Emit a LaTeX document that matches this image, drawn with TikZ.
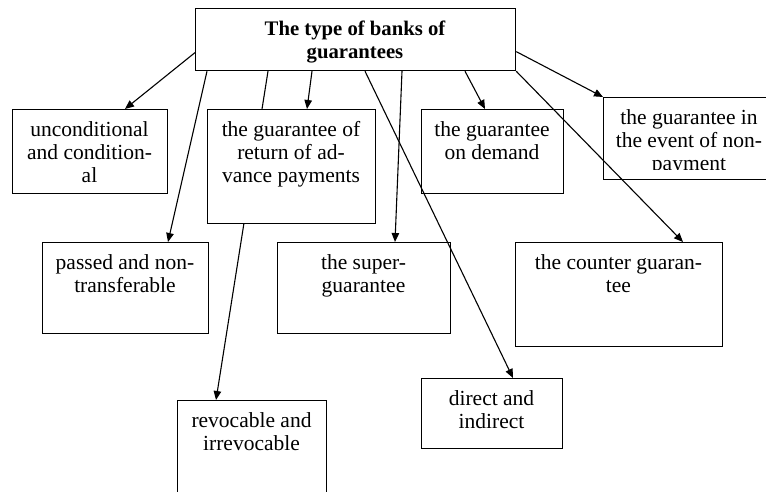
\documentclass[tikz,border=0pt]{standalone}
\usepackage{fontspec}
\setmainfont{Liberation Serif}
\usetikzlibrary{arrows.meta}
\begin{document}
\begin{tikzpicture}[x=1pt,y=-1pt,
  box/.style={draw, line width=1.2pt, fill=white, inner sep=0pt, anchor=north west},
  lbl/.style={inner sep=0pt, anchor=north, align=center, font=\fontsize{21.5}{23}\selectfont},
  ttl/.style={inner sep=0pt, anchor=north, align=center, font=\fontsize{20.7}{23}\selectfont\bfseries},
  conn/.style={line width=1.1pt, -{Triangle[length=9pt,width=7.5pt]}}]
\clip (0,0) rectangle (766,492);
\fill[white] (0,0) rectangle (766,492);
% boxes drawn first so one connector passes behind a box
\node[box, minimum width=320pt, minimum height=62pt] (top) at (195,8) {};
\node[box, minimum width=149pt, minimum height=100pt] (b8) at (177,400) {};
\draw[conn] ([xshift=73pt]top.south west) -- ([xshift=39pt]b8.north west);
\node[box, minimum width=155pt, minimum height=84pt] (b1) at (12,109) {};
\node[box, minimum width=168pt, minimum height=114pt] (b2) at (207,109) {};
\node[box, minimum width=142pt, minimum height=84pt] (b3) at (421,109) {};
\node[box, minimum width=172pt, minimum height=82pt] (b4) at (603,97) {};
\node[box, minimum width=166pt, minimum height=91pt] (b5) at (42,242) {};
\node[box, minimum width=173pt, minimum height=91pt] (b6) at (277,242) {};
\node[box, minimum width=207pt, minimum height=104pt] (b7) at (515,242) {};
\node[box, minimum width=141pt, minimum height=70pt] (b9) at (421,378) {};
% texts
\node[ttl] (t0) at (355,18.9) {\strut The type of banks of\\guarantees};
\node[lbl] (t1) at (89.5,119.9) {\strut unconditional\\and condition-\\al};
\node[lbl] (t2) at (291,119.9) {\strut the guarantee of\\return of ad-\\vance payments};
\node[lbl] (t3) at (492,119.9) {\strut the guarantee\\on demand};
\begin{scope}
\clip (603,97) rectangle (775,170);
\node[lbl] (t4) at (689,107.9) {\strut the guarantee in\\the event of non-\\payment};
\end{scope}
\node[lbl] (t5) at (125,252.9) {\strut passed and non-\\transferable};
\node[lbl] (t6) at (363.5,252.9) {\strut the super-\\guarantee};
\node[lbl] (t7) at (618.5,252.9) {\strut the counter guaran-\\tee};
\node[lbl] (t8) at (251.5,410.9) {\strut revocable and\\irrevocable};
\node[lbl] (t9) at (491.5,388.9) {\strut direct and\\indirect};
% connectors
\draw[conn] ([yshift=-13pt]top.west) -- ([xshift=113pt]b1.north west);
\draw[conn] ([xshift=12pt]top.south west) -- ([xshift=126pt]b5.north west);
\draw[conn] ([xshift=117pt]top.south west) -- ([xshift=100pt]b2.north west);
\draw[conn] ([xshift=170pt]top.south west) -- ([xshift=92pt]b9.north west);
\draw[conn] ([xshift=207pt]top.south west) -- ([xshift=118pt]b6.north west);
\draw[conn] ([xshift=270pt]top.south west) -- ([xshift=64pt]b3.north west);
\draw[conn] ([yshift=-12pt]top.east) -- (b4.north west);
\draw[conn] (top.south east) -- ([xshift=168pt]b7.north west);
\end{tikzpicture}
\end{document}
